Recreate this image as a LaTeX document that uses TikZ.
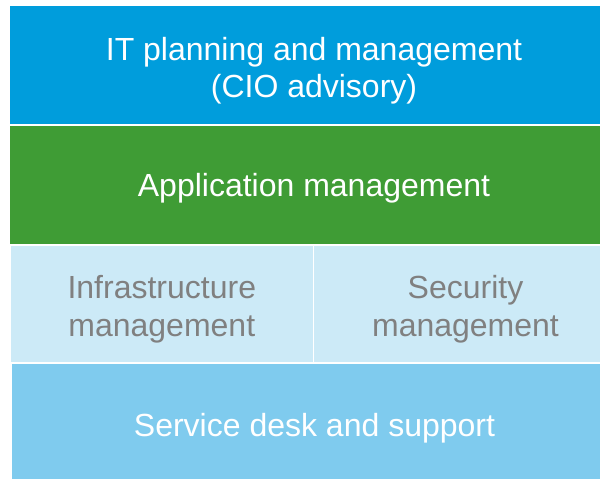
\documentclass[tikz,border=0pt]{standalone}
\usepackage{fontspec}
\setmainfont{Liberation Sans}
\definecolor{topblue}{HTML}{009DDC}
\definecolor{midgreen}{HTML}{3F9C35}
\definecolor{paleblue}{HTML}{CCEAF7}
\definecolor{skyblue}{HTML}{7FCBEE}
\definecolor{greytext}{HTML}{808080}
\begin{document}
\begin{tikzpicture}[x=1pt,y=1pt,
  label/.style={font=\fontsize{32}{37.5}\selectfont, align=center, anchor=base, inner sep=0pt},
  whitetext/.style={label, text=white},
  greytxt/.style={label, text=greytext}]
\useasboundingbox (0,0) rectangle (600,479);
\clip (0,0) rectangle (600,479);
% bands (y measured from bottom: y = 479 - pixel row)
\fill[topblue]  (10,354.5) rectangle (617,473);
\fill[midgreen] (10,234.7) rectangle (617,353.2);
\fill[paleblue] (11,116.5) rectangle (312.6,233.2);
\fill[paleblue] (314.1,116.5) rectangle (617,233.2);
\fill[skyblue]  (12,0) rectangle (617,115);
% labels
\node[whitetext] (plan) at (314,381) {IT planning and management\\(CIO advisory)};
\node[whitetext] (app) at (314,282) {Application management};
\node[greytxt] (infra) at (161.8,142.5) {Infrastructure\\management};
\node[greytxt] (sec) at (465.5,142.5) {Security\\management};
\node[whitetext] (desk) at (314.5,42) {Service desk and support};
\end{tikzpicture}
\end{document}
